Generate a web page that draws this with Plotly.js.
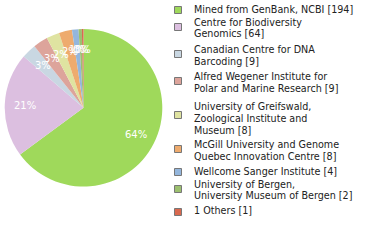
<!DOCTYPE html>
<html><head><meta charset="utf-8">
<script src="https://cdn.plot.ly/plotly-3.0.1.min.js"></script>
<style>html,body{margin:0;padding:0;background:#fff}#chart{width:380px;height:240px}</style>
</head><body><div id="chart"></div>
<script>
// Data
const labels = [
  "Mined from GenBank, NCBI",
  "Centre for Biodiversity Genomics",
  "Canadian Centre for DNA Barcoding",
  "Alfred Wegener Institute for Polar and Marine Research",
  "University of Greifswald, Zoological Institute and Museum",
  "McGill University and Genome Quebec Innovation Centre",
  "Wellcome Sanger Institute",
  "University of Bergen, University Museum of Bergen",
  "1 Others"
];
const counts = [194, 64, 9, 9, 8, 8, 4, 2, 1];
// Legend text as wrapped in the reference
const legendLines = [
  ["Mined from GenBank, NCBI [194]"],
  ["Centre for Biodiversity", "Genomics [64]"],
  ["Canadian Centre for DNA", "Barcoding [9]"],
  ["Alfred Wegener Institute for", "Polar and Marine Research [9]"],
  ["University of Greifswald,", "Zoological Institute and", "Museum [8]"],
  ["McGill University and Genome", "Quebec Innovation Centre [8]"],
  ["Wellcome Sanger Institute [4]"],
  ["University of Bergen,", "University Museum of Bergen [2]"],
  ["1 Others [1]"]
];
const colors = ["#9fd95b","#dcbfe0","#c9d7e2","#dda49b","#dfe3a1","#eeab6e","#94b6dc","#9cc06f","#d9694f"];

// Layout constants (px, from top)
const W = 380, H = 240;
const pieCx = 83.5, pieCy = 107.8, pieR = 78.8, labelFrac = 0.74;
const legFirstLineY = [9.3, 22.3, 49.3, 76.7, 106.7, 144.3, 171, 184, 210.7];
const legSquareY = [10, 27, 54, 81, 115, 149, 172, 189, 212];
const lineH = 11.7;
const textX = 192, sqX0 = 174.5, sqSize = 7;
const legFont = {family: "DejaVu Sans", size: 9.6, color: "#222"};

const total = counts.reduce((a, b) => a + b, 0);
const pctText = counts.map(c => Math.floor(c / total * 100) + "%");

const annotations = [];
const shapes = [];
legendLines.forEach((lines, i) => {
  lines.forEach((ln, j) => {
    annotations.push({
      xref: "paper", yref: "paper",
      x: textX / W, y: 1 - (legFirstLineY[i] + j * lineH) / H,
      xanchor: "left", yanchor: "middle",
      text: ln, showarrow: false, font: legFont
    });
  });
  shapes.push({
    type: "rect", xref: "paper", yref: "paper",
    x0: sqX0 / W, x1: (sqX0 + sqSize) / W,
    y0: 1 - (legSquareY[i] + sqSize / 2) / H, y1: 1 - (legSquareY[i] - sqSize / 2) / H,
    fillcolor: colors[i], line: {color: "#777", width: 1}
  });
});

// Percentage labels placed along each slice's mid-angle (clockwise from 12 o'clock)
let cum = 0;
counts.forEach((c, i) => {
  const mid = (cum + c / 2) / total * 2 * Math.PI;
  cum += c;
  const px = pieCx + Math.sin(mid) * pieR * labelFrac;
  const py = pieCy - Math.cos(mid) * pieR * labelFrac;
  annotations.push({
    xref: "paper", yref: "paper", x: px / W, y: 1 - py / H,
    xanchor: "center", yanchor: "middle", showarrow: false,
    text: pctText[i], font: {family: "DejaVu Sans", size: 10, color: "#fff"}
  });
});

const trace = {
  type: "pie",
  labels: labels,
  values: counts,
  textinfo: "none",
  textposition: "none",
  sort: false,
  direction: "clockwise",
  rotation: 0,
  marker: {colors: colors, line: {width: 0}},
  hoverinfo: "none",
  domain: {x: [(pieCx - pieR) / W, (pieCx + pieR) / W], y: [(H - pieCy - pieR) / H, (H - pieCy + pieR) / H]},
  showlegend: false
};

Plotly.newPlot("chart", [trace], {
  width: W, height: H,
  margin: {l: 0, r: 0, t: 0, b: 0},
  paper_bgcolor: "#fff",
  showlegend: false,
  annotations: annotations,
  shapes: shapes
}, {staticPlot: true});
</script>
</body></html>
